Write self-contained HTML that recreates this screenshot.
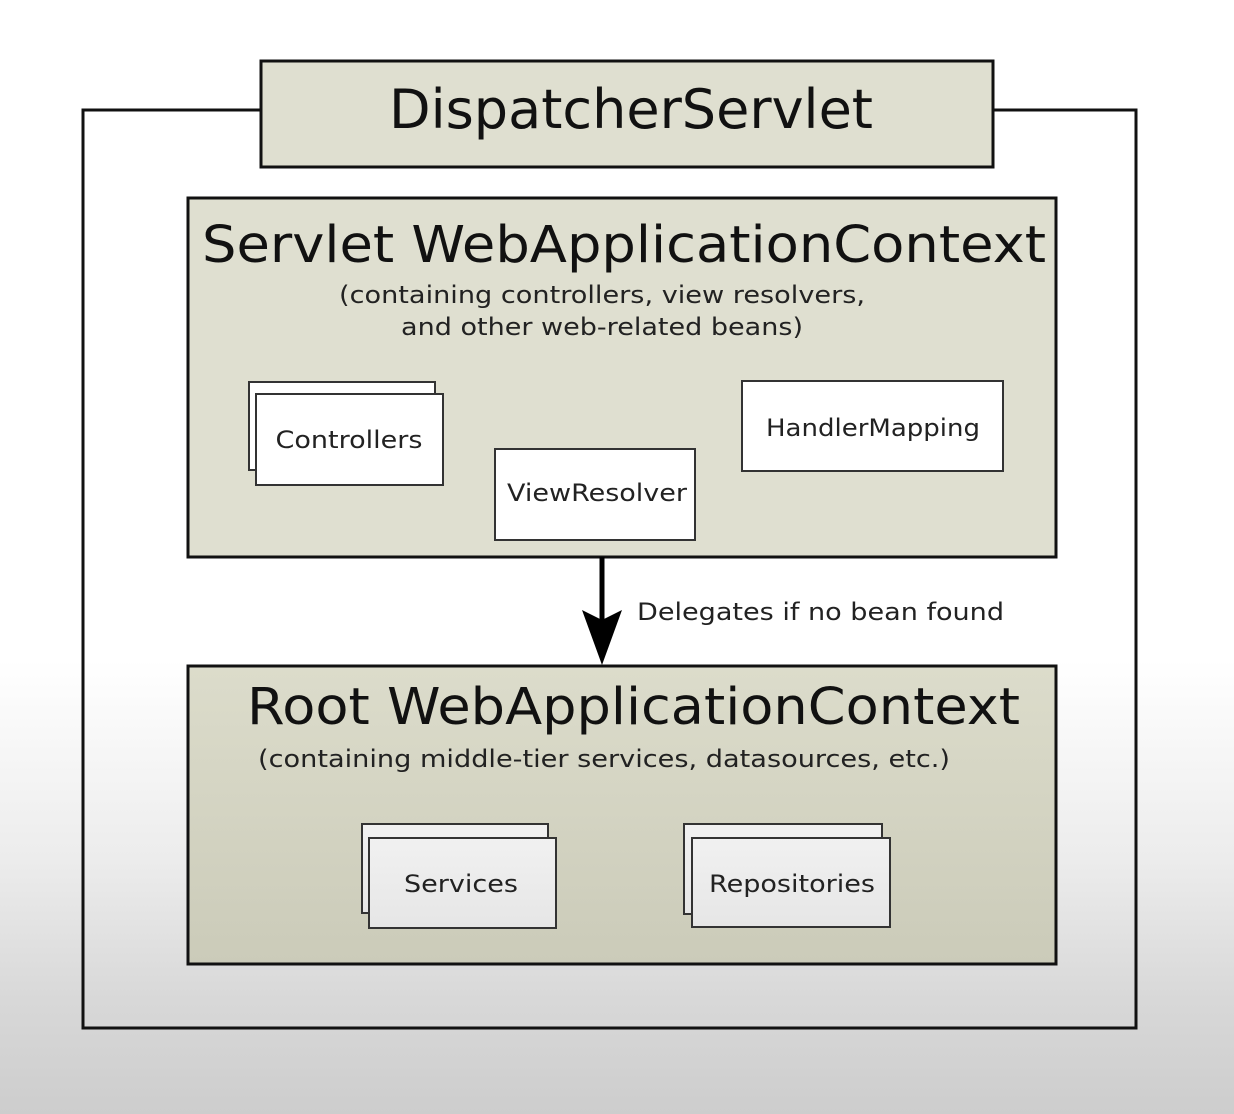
<!DOCTYPE html>
<html><head><meta charset="utf-8"><style>
html,body{margin:0;padding:0;}
body{width:1234px;height:1114px;overflow:hidden;background:linear-gradient(to bottom,#ffffff 0px,#ffffff 660px,#ececec 860px,#d8d8d8 1000px,#cdcdcd 1114px);}
svg{position:absolute;left:0;top:0;}
text{font-family:"DejaVu Sans","Liberation Sans",sans-serif;}
</style></head><body>
<svg width="1234" height="1114" viewBox="0 0 1234 1114">
<defs>
<linearGradient id="rootg" x1="0" y1="0" x2="0" y2="1">
<stop offset="0" stop-color="#dcdccb"/><stop offset="1" stop-color="#cbcbb9"/>
</linearGradient>
<linearGradient id="wg" x1="0" y1="0" x2="0" y2="1">
<stop offset="0" stop-color="#f1f1f1"/><stop offset="1" stop-color="#e6e6e6"/>
</linearGradient>
</defs>
<!-- outer frame -->
<path d="M261 110 H83 V1028 H1136 V110 H993" fill="none" stroke="#111" stroke-width="3"/>
<!-- dispatcher -->
<rect x="261" y="61" width="732" height="106" fill="#dfdfd0" stroke="#111" stroke-width="3"/>
<text x="631" y="128" font-size="54" text-anchor="middle" fill="#111" textLength="484" lengthAdjust="spacingAndGlyphs">DispatcherServlet</text>
<!-- servlet WAC -->
<rect x="188" y="198" width="868" height="359" fill="#dfdfd0" stroke="#111" stroke-width="3"/>
<text x="202" y="262" font-size="51" fill="#111" textLength="844" lengthAdjust="spacingAndGlyphs">Servlet WebApplicationContext</text>
<text x="339" y="303" font-size="24" fill="#222" textLength="526" lengthAdjust="spacingAndGlyphs">(containing controllers, view resolvers,</text>
<text x="401" y="335" font-size="24" fill="#222" textLength="402" lengthAdjust="spacingAndGlyphs">and other web-related beans)</text>
<rect x="249" y="382" width="186" height="88" fill="#fff" stroke="#333" stroke-width="2"/>
<rect x="256" y="394" width="187" height="91" fill="#fff" stroke="#333" stroke-width="2"/>
<text x="349" y="448" font-size="24" text-anchor="middle" fill="#222" textLength="147" lengthAdjust="spacingAndGlyphs">Controllers</text>
<rect x="495" y="449" width="200" height="91" fill="#fff" stroke="#333" stroke-width="2"/>
<text x="597" y="501" font-size="24" text-anchor="middle" fill="#222" textLength="180" lengthAdjust="spacingAndGlyphs">ViewResolver</text>
<rect x="742" y="381" width="261" height="90" fill="#fff" stroke="#333" stroke-width="2"/>
<text x="873" y="436" font-size="24" text-anchor="middle" fill="#222" textLength="214" lengthAdjust="spacingAndGlyphs">HandlerMapping</text>
<!-- arrow -->
<line x1="602" y1="557" x2="602" y2="620" stroke="#000" stroke-width="5"/>
<path d="M582 610 L602 620 L622 610 L602 665 Z" fill="#000"/>
<text x="637" y="620" font-size="24" fill="#222" textLength="367" lengthAdjust="spacingAndGlyphs">Delegates if no bean found</text>
<!-- root WAC -->
<rect x="188" y="666" width="868" height="298" fill="url(#rootg)" stroke="#111" stroke-width="3"/>
<text x="247" y="724" font-size="51" fill="#111" textLength="773" lengthAdjust="spacingAndGlyphs">Root WebApplicationContext</text>
<text x="258" y="767" font-size="24" fill="#222" textLength="692" lengthAdjust="spacingAndGlyphs">(containing middle-tier services, datasources, etc.)</text>
<rect x="362" y="824" width="186" height="89" fill="url(#wg)" stroke="#333" stroke-width="2"/>
<rect x="369" y="838" width="187" height="90" fill="url(#wg)" stroke="#333" stroke-width="2"/>
<text x="461" y="892" font-size="24" text-anchor="middle" fill="#222" textLength="114" lengthAdjust="spacingAndGlyphs">Services</text>
<rect x="684" y="824" width="198" height="90" fill="url(#wg)" stroke="#333" stroke-width="2"/>
<rect x="692" y="838" width="198" height="89" fill="url(#wg)" stroke="#333" stroke-width="2"/>
<text x="792" y="892" font-size="24" text-anchor="middle" fill="#222" textLength="166" lengthAdjust="spacingAndGlyphs">Repositories</text>
</svg>
</body></html>
